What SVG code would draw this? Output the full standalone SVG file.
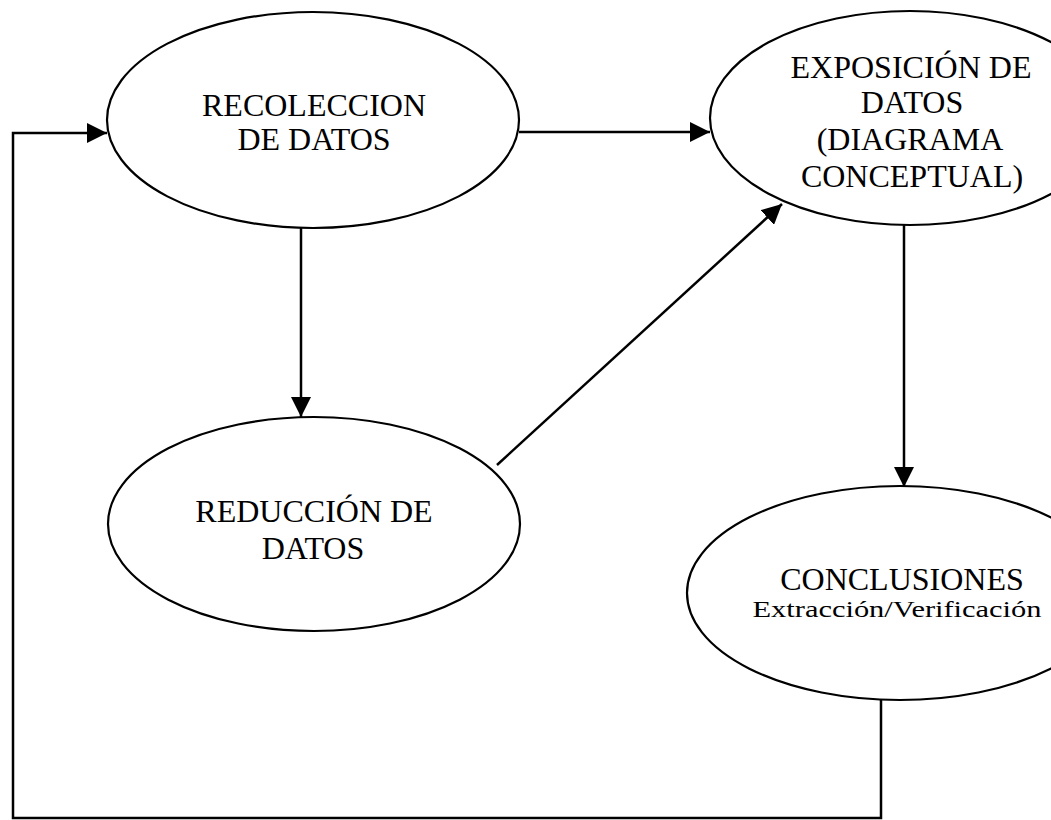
<svg xmlns="http://www.w3.org/2000/svg" width="1051" height="820" viewBox="0 0 1051 820">
<style>
.node ellipse{fill:#fff;stroke:#000;stroke-width:2.2}
.node text{font-family:"Liberation Serif","Times New Roman",serif;font-size:32px;fill:#000;text-anchor:middle}
.conn line,.conn polyline{stroke:#000;stroke-width:2.5;fill:none}
</style>
<defs>
<marker id="ah" viewBox="0 0 20 20" refX="20" refY="10" markerWidth="20" markerHeight="20" markerUnits="userSpaceOnUse" orient="auto">
<path d="M0,0 L20,10 L0,20 Z" fill="#000"/>
</marker>
</defs>
<rect width="1051" height="820" fill="#fff"/>
<g id="connectors" class="conn">
<line x1="519" y1="132" x2="710" y2="132" marker-end="url(#ah)"/>
<line x1="301" y1="228" x2="301" y2="417" marker-end="url(#ah)"/>
<line x1="497" y1="465" x2="782" y2="204" marker-end="url(#ah)"/>
<line x1="904" y1="225" x2="904" y2="487" marker-end="url(#ah)"/>
<polyline points="881,700 881,818 13,818 13,133 107,133" marker-end="url(#ah)"/>
</g>
<g id="recoleccion" class="node">
<ellipse cx="313" cy="120" rx="206" ry="108"/>
<text x="314" y="116">RECOLECCION</text>
<text x="314" y="150">DE DATOS</text>
</g>
<g id="exposicion" class="node">
<ellipse cx="910" cy="118" rx="200" ry="107"/>
<text x="911" y="78">EXPOSICIÓN DE</text>
<text x="912" y="113">DATOS</text>
<text x="910" y="150">(DIAGRAMA</text>
<text x="912" y="187">CONCEPTUAL)</text>
</g>
<g id="reduccion" class="node">
<ellipse cx="314" cy="524" rx="206" ry="107"/>
<text x="314" y="522">REDUCCIÓN DE</text>
<text x="313" y="559">DATOS</text>
</g>
<g id="conclusiones" class="node">
<ellipse cx="900" cy="593" rx="213" ry="107"/>
<text x="902" y="590">CONCLUSIONES</text>
<text x="897" y="617" style="font-size:24px" textLength="289" lengthAdjust="spacingAndGlyphs">Extracción/Verificación</text>
</g>
</svg>
